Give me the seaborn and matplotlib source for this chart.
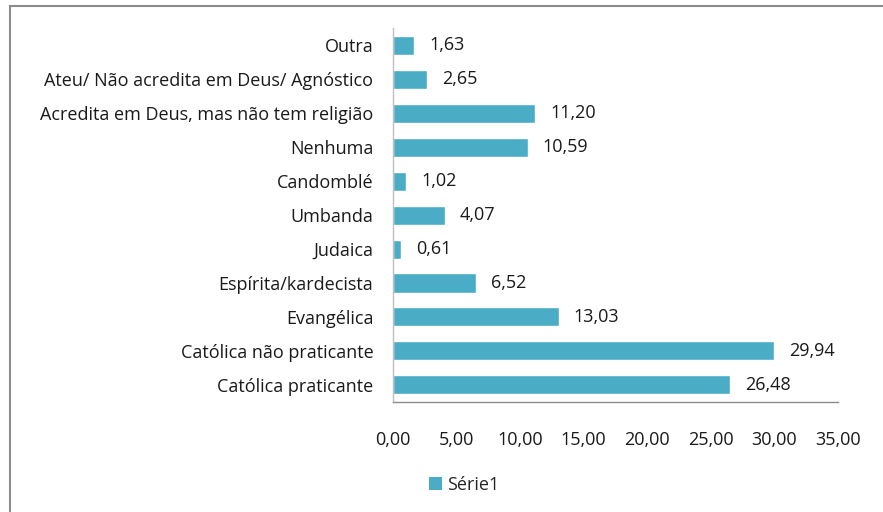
import numpy as np
import matplotlib
matplotlib.use("Agg")
import matplotlib.pyplot as plt
from matplotlib.lines import Line2D
from matplotlib.patches import Patch
import pandas as pd
import seaborn as sns

categories = ["Outra", "Ateu/ Não acredita em Deus/ Agnóstico",
              "Acredita em Deus, mas não tem religião", "Nenhuma", "Candomblé",
              "Umbanda", "Judaica", "Espírita/kardecista", "Evangélica",
              "Católica não praticante", "Católica praticante"]
values = [1.63, 2.65, 11.20, 10.59, 1.02, 4.07, 0.61, 6.52, 13.03, 29.94, 26.48]
xticks = [0, 5, 10, 15, 20, 25, 30, 35]
series_name = "Série1"

sns.set_style("white")
plt.rcParams['font.family'] = ['Open Sans', 'DejaVu Sans']
bar_color = "#4BACC6"
fs = 13

df = pd.DataFrame({"cat": categories, "val": values})

fig = plt.figure(figsize=(8.83, 5.12), dpi=100)
ax = fig.add_axes([0.445, 0.215, 0.504, 0.730])
sns.barplot(data=df, x="val", y="cat", orient="h", color=bar_color,
            width=0.56, saturation=1, ax=ax)

for c in ax.containers:
    ax.bar_label(c, labels=[f"{v:.2f}".replace(".", ",") for v in values],
                 padding=11, fontsize=fs, color="#1a1a1a")

ax.set_xlim(0, 35)
ax.set_xticks(xticks)
ax.set_xticklabels([f"{t:.2f}".replace(".", ",") for t in xticks], fontsize=fs)
ax.tick_params(axis="x", length=0, pad=21, colors="#1a1a1a")
ax.tick_params(axis="y", length=0, pad=14, labelsize=fs, colors="#1a1a1a")
ax.set_xlabel("")
ax.set_ylabel("")
for s in ["top", "right"]:
    ax.spines[s].set_visible(False)
ax.spines["left"].set_color("#bfbfbf")
ax.spines["bottom"].set_color("#8c8c8c")
ax.spines["left"].set_linewidth(1)
ax.spines["bottom"].set_linewidth(1)

# legend at bottom
handle = Patch(facecolor=bar_color, edgecolor="none")
fig.legend([handle], [series_name], loc="center left",
           bbox_to_anchor=(0.468, 1 - 485 / 512), frameon=False, fontsize=fs,
           handlelength=0.7, handleheight=0.7, handletextpad=0.3)

# chart area border (top and left visible)
fig.add_artist(Line2D([10 / 883, 1.0], [1 - 6 / 512, 1 - 6 / 512],
                      transform=fig.transFigure, color="#8c8c8c", lw=1.5))
fig.add_artist(Line2D([10 / 883, 10 / 883], [0, 1 - 6 / 512],
                      transform=fig.transFigure, color="#8c8c8c", lw=1.5))

fig.savefig("out.png", dpi=100)
